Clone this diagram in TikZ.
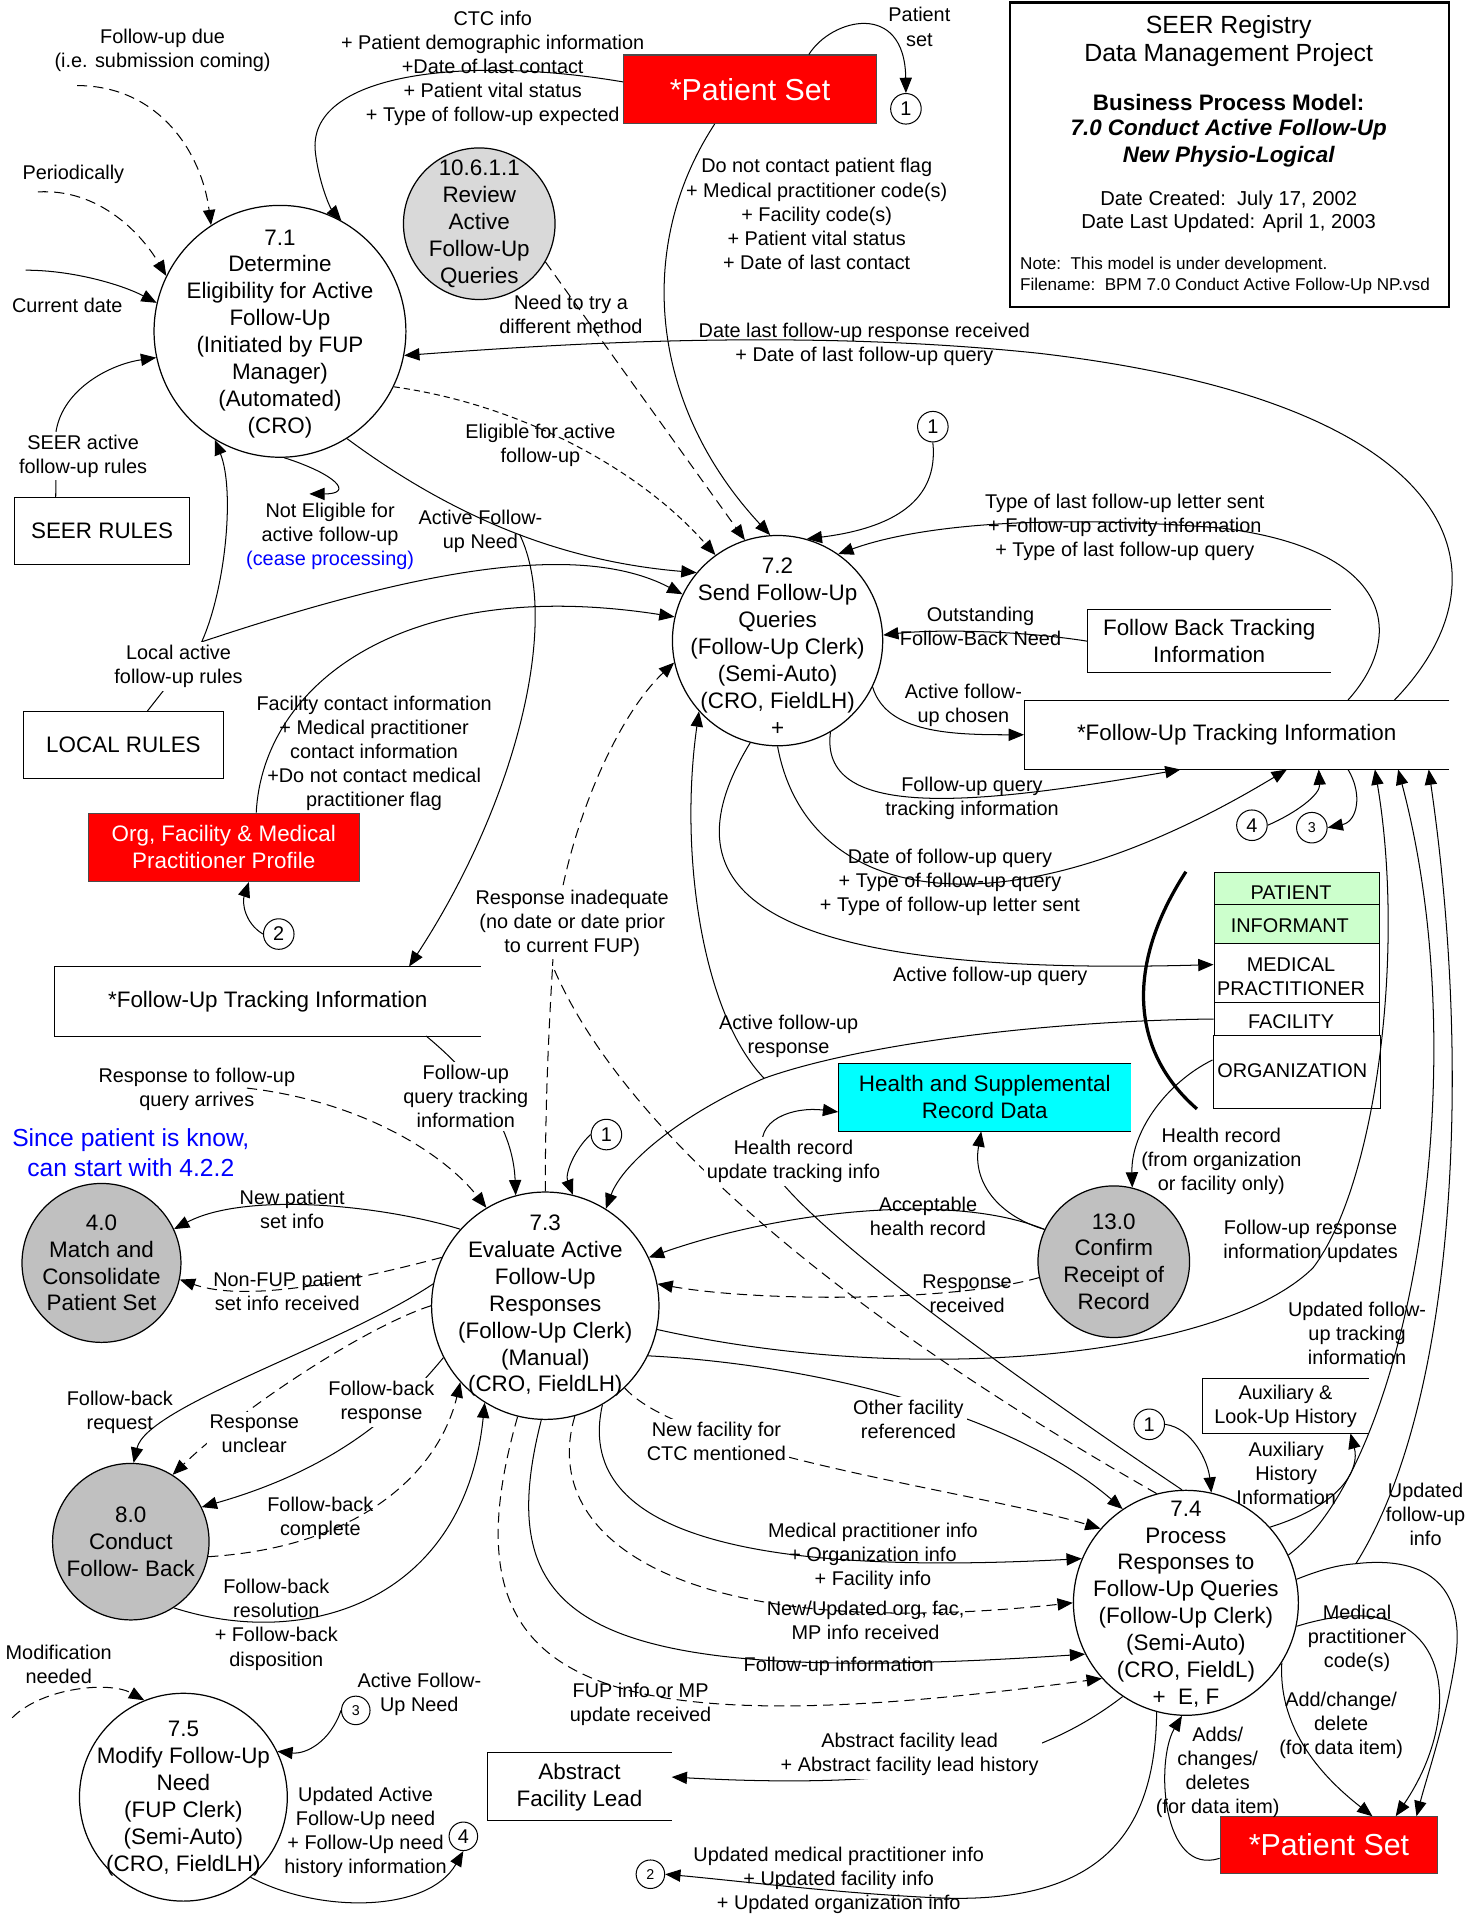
\documentclass[tikz,border=0pt]{standalone}
\usepackage{fontspec}
\setmainfont{Liberation Sans}
\usetikzlibrary{arrows.meta,calc}
\definecolor{gfill}{HTML}{C0C0C0}
\definecolor{gfilllt}{HTML}{D9D9D9}
\definecolor{entgreen}{HTML}{CCFFCC}
\definecolor{cyanbox}{HTML}{00FFFF}
\definecolor{redbox}{HTML}{FF0000}
\definecolor{bluetxt}{HTML}{0000FF}
\newcommand\lblf{\fontsize{9.75}{11.8}\selectfont}
\newcommand\procf{\fontsize{11}{13.2}\selectfont}
\newcommand\smallf{\fontsize{7}{8}\selectfont}
\begin{document}
\begin{tikzpicture}[x=0.6pt,y=-0.6pt,
  line width=0.5pt,
  con/.style={draw, -{Triangle[length=7.5pt,width=6pt]}},
  dsh/.style={con, dash pattern=on 5pt off 3pt},
  fdsh/.style={con, dash pattern=on 3pt off 2pt},
  nda/.style={dash pattern=on 5pt off 3pt},
  lbl/.style={font=\lblf, align=center, inner sep=1pt},
  lblw/.style={lbl, fill=white, inner sep=1.5pt},
  proc/.style={circle, draw, line width=0.6pt, inner sep=0pt, fill=white},
  gproc/.style={proc, fill=gfill},
  ptxt/.style={font=\procf, align=center, inner sep=0pt},
  cn/.style={circle, draw, inner sep=0pt, minimum size=15pt, font=\lblf, fill=white},
  sbox/.style={rectangle, inner sep=0pt, font=\procf, align=center},
  ent/.style={rectangle, draw, inner sep=0pt, minimum width=81pt, font=\lblf, align=center},
  etxt/.style={font=\lblf, align=center, inner sep=0pt},
]
\useasboundingbox (0,0) rectangle (1202,1568);

% ---------- title block ----------
\node[draw, line width=1.2pt, minimum width=215.4pt, minimum height=149.4pt, inner sep=0pt] (title) at (1005.5,126.5) {};
\node[font=\fontsize{12.2}{14}\selectfont] (tt1) at (1005,22) {SEER Registry};
\node[font=\fontsize{12.2}{14}\selectfont] (tt2) at (1005,45) {Data Management Project};
\node[font=\fontsize{11}{13}\selectfont\bfseries] (tt3) at (1005,84) {Business Process Model:};
\node[font=\fontsize{11}{13}\selectfont\bfseries\itshape] (tt4) at (1005,106) {7.0 Conduct Active Follow-Up};
\node[font=\fontsize{11}{13}\selectfont\bfseries\itshape] (tt5) at (1005,128) {New Physio-Logical};
\node[font=\fontsize{9.9}{12}\selectfont] (tt6) at (1005,164) {Date Created:\ \ July 17, 2002};
\node[font=\fontsize{9.9}{12}\selectfont] (tt7) at (1005,183) {Date Last Updated: April 1, 2003};
\node[font=\fontsize{8.4}{10}\selectfont, anchor=west, inner sep=0pt] (tt8) at (834,217) {Note:\ \ This model is under development.};
\node[font=\fontsize{8.4}{10}\selectfont, anchor=west, inner sep=0pt] (tt9) at (834,234) {Filename:\ \ BPM 7.0 Conduct Active Follow-Up NP.vsd};

% ---------- stores / boxes ----------
\node[sbox, draw=black!70, fill=redbox, text=white, minimum width=124.2pt, minimum height=33.6pt, font=\fontsize{14.9}{17}\selectfont] (psTop) at (613.5,73) {*Patient Set};
\node[sbox, draw=black!70, fill=redbox, text=white, minimum width=106.8pt, minimum height=27.6pt, font=\fontsize{14.9}{17}\selectfont] (psBot) at (1087,1509) {*Patient Set};
\node[sbox, draw=black!70, fill=redbox, text=white, minimum width=133.2pt, minimum height=33.6pt] (org) at (183,693) {Org, Facility \& Medical\\Practitioner Profile};
\node[sbox, draw, minimum width=85.8pt, minimum height=33pt] (seer) at (83.5,434.5) {SEER RULES};
\node[sbox, draw, minimum width=98.4pt, minimum height=33pt] (local) at (101,609.5) {LOCAL RULES};
\node[sbox, minimum width=208.8pt, minimum height=33.6pt] (futL) at (219,819) {*Follow-Up Tracking Information};
\node[sbox, minimum width=208.2pt, minimum height=33.6pt] (futR) at (1011.5,601) {*Follow-Up Tracking Information};
\node[sbox, minimum width=118.8pt, minimum height=30.6pt] (fbt) at (989,524.5) {Follow Back Tracking\\Information};
\node[sbox, fill=cyanbox, minimum width=143.4pt, minimum height=33pt] (hb) at (805.5,897.5) {Health and Supplemental\\Record Data};
\node[sbox, minimum width=90pt, minimum height=33pt] (abs) at (474,1461.5) {Abstract\\Facility Lead};
\node[sbox, font=\lblf, minimum width=81pt, minimum height=26.4pt] (aux) at (1051.5,1150) {Auxiliary \&\\Look-Up History};
\foreach \n in {futL,futR,fbt,hb,abs,aux}
  \draw (\n.north east) -- (\n.north west) -- (\n.south west) -- (\n.south east);

% ---------- entity table ----------
\node[ent, fill=entgreen, minimum height=15.6pt] (ePat) at (1060.5,727) {};
\node[ent, fill=entgreen, minimum height=19.2pt] (eInf) at (1060.5,756) {};
\node[ent, minimum height=28.8pt] (eMed) at (1060.5,796) {};
\node[ent, minimum height=16.2pt] (eFac) at (1060.5,833.5) {};
\node[ent, minimum height=36pt, minimum width=82pt] (eOrg) at (1060.5,877) {};
\node[etxt] (xPat) at (1056,730) {PATIENT};
\node[etxt] (xInf) at (1055,757) {INFORMANT};
\node[etxt] (xMed) at (1056,799) {MEDICAL\\PRACTITIONER};
\node[etxt] (xFac) at (1056,836) {FACILITY};
\node[etxt] (xOrg) at (1057,876) {ORGANIZATION};
\draw[line width=1.6pt] (970,713) .. controls (920,790) and (925,860) .. (979,907);

% ---------- processes ----------
\node[proc, minimum size=123.6pt] (p71) at (229,271) {};
\node[proc, fill=gfilllt, minimum size=74.4pt] (p1061) at (392,183) {};
\node[proc, minimum size=103.2pt] (p72) at (636,524) {};
\node[proc, minimum size=111.6pt] (p73) at (446,1068) {};
\node[proc, minimum size=110.4pt] (p74) at (970,1311) {};
\node[proc, minimum size=102pt] (p75) at (150,1470) {};
\node[gproc, minimum size=78pt] (p40) at (83,1033) {};
\node[gproc, minimum size=76.8pt] (p80) at (107,1261) {};
\node[gproc, minimum size=74.4pt] (p130) at (911,1032) {};

\node[ptxt] (t71) at (229,273) {7.1\\Determine\\Eligibility for Active\\Follow-Up\\(Initiated by FUP\\Manager)\\(Automated)\\(CRO)};
\node[ptxt] (t1061) at (392,183) {10.6.1.1\\Review\\Active\\Follow-Up\\Queries};
\node[ptxt] (t72) at (636,529) {7.2\\Send Follow-Up\\Queries\\(Follow-Up Clerk)\\(Semi-Auto)\\(CRO, FieldLH)\\+};
\node[ptxt] (t73) at (446,1068) {7.3\\Evaluate Active\\Follow-Up\\Responses\\(Follow-Up Clerk)\\(Manual)\\(CRO, FieldLH)};
\node[ptxt] (t74) at (970,1312) {7.4\\Process\\Responses to\\Follow-Up Queries\\(Follow-Up Clerk)\\(Semi-Auto)\\(CRO, FieldL)\\+\ \ E, F};
\node[ptxt] (t75) at (150,1471) {7.5\\Modify Follow-Up\\Need\\(FUP Clerk)\\(Semi-Auto)\\(CRO, FieldLH)};
\node[ptxt] (t40) at (83,1033) {4.0\\Match and\\Consolidate\\Patient Set};
\node[ptxt] (t80) at (107,1261) {8.0\\Conduct\\Follow- Back};
\node[ptxt] (t130) at (911,1032) {13.0\\Confirm\\Receipt of\\Record};

% ---------- off-page connectors ----------
\node[cn] (c1a) at (741,89) {1};
\node[cn] (c1b) at (763,349) {1};
\node[cn] (c1c) at (496,928) {1};
\node[cn] (c1d) at (940,1165) {1};
\node[cn] (c2a) at (228,764) {2};
\node[cn, font=\smallf, minimum size=14pt] (c2b) at (532,1533) {2};
\node[cn, font=\smallf] (c3a) at (1073,677) {3};
\node[cn, font=\smallf, minimum size=14pt] (c3b) at (291,1399) {3};
\node[cn] (c4a) at (1024,675) {4};
\node[cn, minimum size=14pt] (c4b) at (379,1502) {4};

% ---------- free ends / junctions ----------
\coordinate (fud) at (63,70);
\coordinate (per) at (31,157);
\coordinate (cdt) at (21,221);
\coordinate (lrj) at (165,525);
\coordinate (afn) at (425,437);
\coordinate (ne) at (253,404);
\coordinate (afr) at (625,882);
\coordinate (rij) at (452,790);
\coordinate (rtf) at (202,890);
\coordinate (mod) at (10,1405);
\coordinate (ufi) at (1109,1279);

% ---------- connectors: 7.1 ----------
\draw[dsh] (fud) .. controls (130,70) and (165,125) .. (p71.123);
\draw[dsh] (per) .. controls (80,154) and (115,190) .. (p71.154);
\draw[con] (cdt) .. controls (60,221) and (100,233) .. (p71.167);
\draw[con] ($(seer.north west)+(34,0)$) -- (46,352) .. controls (52,318) and (90,298) .. (p71.192);
\draw ($(local.north west)+(102,0)$) -- (lrj);
\draw[con] (lrj) .. controls (185,480) and (192,400) .. (p71.239);
\draw[con] (lrj) .. controls (330,470) and (470,440) .. (p72.154);
\draw[con] ($(psTop.west)+(0,-6)$) .. controls (380,45) and (250,60) .. (258,125) .. controls (261,150) and (270,170) .. (p71.61);
\draw[con] ($(psTop.north west)+(152,0)$) .. controls (680,15) and (740,0) .. (c1a.north);
\draw[con] ($(psTop.south west)+(75,0)$) .. controls (520,200) and (530,330) .. (p72.94);
\draw[dsh] (p1061.-30) -- (p72.108);
\draw[fdsh] (p71.-26) .. controls (420,330) and (520,380) .. (p72.126);
\draw[con] (p71.-58) .. controls (380,430) and (470,460) .. (p72.140);
\draw[con] (afn) .. controls (460,510) and (420,660) .. ($(futL.north west)+(290,0)$);
\draw[con] (p71.-88) .. controls (275,388) and (290,404) .. (ne);
\draw[con] ($(futR.north west)+(303,0)$) .. controls (1240,470) and (1200,330) .. (850,289) .. controls (650,268) and (450,282) .. (p71.-11);

% ---------- connectors: 7.2 ----------
\draw[con] ($(futR.north west)+(265,0)$) .. controls (1150,520) and (1140,450) .. (1000,432) .. controls (850,420) and (750,430) .. (p72.55);
\draw[con] (c1b.south) .. controls (768,410) and (730,432) .. (p72.74);
\draw[con] (fbt.west) .. controls (830,515) and (760,515) .. (p72.3);
\draw[con] (p72.-26) .. controls (725,600) and (780,601) .. (futR.west);
\draw[con] (p72.-60) .. controls (670,670) and (790,660) .. ($(futR.south west)+(128,0)$);
\draw[con] (p72.-90) .. controls (660,740) and (820,770) .. ($(futR.south west)+(215,0)$);
\draw[con] (p72.-105) .. controls (545,720) and (600,800) .. ($(eMed.west)+(0,-7)$);
\draw[con] (eFac.west) .. controls (850,835) and (700,855) .. (afr) .. controls (560,910) and (510,950) .. (p73.58);
\draw[con] (afr) .. controls (575,830) and (555,700) .. (p72.-138);
\draw[con] ($(org.north west)+(138,0)$) .. controls (215,560) and (330,470) .. (p72.167);
\draw[con] (c2a.west) .. controls (200,755) and (198,738) .. ($(org.south west)+(132,0)$);
\draw[con] ($(futR.south west)+(265,0)$) .. controls (1115,650) and (1110,672) .. (c3a.east);
\draw[con] (c4a.east) .. controls (1060,665) and (1080,650) .. ($(futR.south west)+(241,0)$);

% ---------- connectors: 13.0 / health ----------
\draw[con] ($(eOrg.west)+(0,-10)$) .. controls (955,885) and (925,925) .. (p130.76);
\draw[con] (p130.155) .. controls (818,995) and (795,968) .. ($(hb.south west)+(117,0)$);
\draw[con] (p130.155) .. controls (780,975) and (640,990) .. (p73.25);
\draw[dsh] (p130.192) .. controls (780,1065) and (620,1065) .. (p73.11);
\draw[con] (p74.92) .. controls (820,1120) and (640,990) .. (625,945) .. controls (615,915) and (650,905) .. ($(hb.west)+(0,12)$);

% ---------- connectors: 7.3 ----------
\draw[nda] (p73.90) .. controls (446,900) and (449,840) .. (rij);
\draw[nda] (p74.105) .. controls (750,1110) and (520,950) .. (rij);
\draw[dsh] (rij) .. controls (455,700) and (500,590) .. (p72.192);
\draw[con] (c1c.west) .. controls (470,940) and (462,960) .. (p73.76);
\draw[dsh] (rtf) .. controls (290,900) and (360,940) .. (p73.121);
\draw[con] ($(futL.south west)+(304,0)$) .. controls (400,890) and (420,930) .. (p73.105);
\draw[con] (p73.138) .. controls (310,985) and (200,975) .. (p40.25);
\draw[dsh] (p73.155) .. controls (280,1050) and (200,1065) .. (p40.-12);
\draw[con] (p73.169) .. controls (280,1100) and (120,1150) .. (p80.88);
\draw[dsh] (p73.180) .. controls (300,1085) and (200,1150) .. (p80.58);
\draw[con] (p73.207) .. controls (330,1150) and (280,1200) .. (p80.26);
\draw[dsh] (p80.-11) .. controls (300,1265) and (360,1200) .. (p73.222);
\draw[con] (p80.-57) .. controls (250,1350) and (380,1310) .. (p73.238);
\draw[dsh] (mod) .. controls (35,1380) and (90,1375) .. (p75.112);
\draw[con] (c3b.west) .. controls (270,1425) and (250,1435) .. (p75.26);
\draw[con] (p75.-50) .. controls (260,1565) and (350,1565) .. (c4b.south);
\draw[con] (p73.-26) .. controls (650,1115) and (820,1150) .. (p74.124);
\draw[dsh] (p73.-46) .. controls (560,1190) and (800,1220) .. (p74.139);
\draw[con] (p73.-60) .. controls (470,1250) and (600,1290) .. (p74.157);
\draw[dsh] (p73.-75) .. controls (440,1260) and (560,1345) .. (p74.180);
\draw[con] (p73.-92) .. controls (400,1330) and (480,1380) .. (p74.207);
\draw[dsh] (p73.-104) .. controls (360,1380) and (480,1430) .. (p74.222);
\draw[con] (p73.-12) .. controls (750,1135) and (1000,1110) .. (1074,1037) .. controls (1125,970) and (1150,780) .. ($(futR.south west)+(287,0)$);

% ---------- connectors: 7.4 ----------
\draw[con] (p74.25) .. controls (1150,1200) and (1210,880) .. ($(futR.south west)+(306,0)$);
\draw[con] (p74.12) .. controls (1085,1282) and (1097,1280) .. (ufi) .. controls (1170,1272) and (1200,1300) .. (1190,1360) .. controls (1182,1410) and (1168,1450) .. ($(psBot.north west)+(161,0)$);
\draw[con] (ufi) .. controls (1190,1150) and (1205,880) .. ($(futR.south west)+(331,0)$);
\draw[con] (p74.-12) .. controls (1190,1290) and (1200,1400) .. ($(psBot.north west)+(144,0)$);
\draw[con] (p74.-32) .. controls (1045,1420) and (1090,1460) .. ($(psBot.north west)+(125,0)$);
\draw[con] ($(psBot.west)+(0,11)$) .. controls (950,1535) and (945,1440) .. (p74.-92);
\draw[con] (p74.42) .. controls (1100,1230) and (1112,1200) .. ($(aux.south west)+(121,0)$);
\draw[con] (c1d.east) .. controls (975,1168) and (988,1195) .. (p74.77);
\draw[con] (p74.236) .. controls (850,1440) and (760,1465) .. ($(abs.east)+(0,-8)$);
\draw[con] (p74.255) .. controls (945,1500) and (900,1560) .. (760,1552) .. controls (680,1548) and (600,1538) .. (c2b.east);

% ---------- labels ----------
\node[lbl] (L1) at (133,41) {Follow-up due\\(i.e. submission coming)};
\node[lbl] (L2) at (60,143) {Periodically};
\node[lbl] (L3) at (55,250) {Current date};
\node[lblw] (L4) at (68,373) {SEER active\\follow-up rules};
\node[lblw] (L5) at (146,545) {Local active\\follow-up rules};
\node[lbl] (L6) at (403,56) {CTC info\\+ Patient demographic information\\+Date of last contact\\+ Patient vital status\\+ Type of follow-up expected};
\node[lbl] (L7) at (752,22) {Patient\\set};
\node[lbl] (L8) at (668,175) {Do not contact patient flag\\+ Medical practitioner code(s)\\+ Facility code(s)\\+ Patient vital status\\+ Date of last contact};
\node[lbl] (L9) at (467,257) {Need to try a\\different method};
\node[lbl] (L10) at (442,364) {Eligible for active\\follow-up};
\node[lbl] (L11) at (393,435) {Active Follow-\\up Need};
\node[lbl] (L12) at (270,439) {Not Eligible for\\active follow-up\\\textcolor{bluetxt}{(cease processing)}};
\node[lbl] (L13) at (707,282) {Date last follow-up response received\\+ Date of last follow-up query};
\node[lbl] (L14) at (920,431) {Type of last follow-up letter sent\\+ Follow-up activity information\\+ Type of last follow-up query};
\node[lbl] (L15) at (802,512) {Outstanding\\Follow-Back Need};
\node[lbl] (L16) at (788,577) {Active follow-\\up chosen};
\node[lbl] (L17) at (795,653) {Follow-up query\\tracking information};
\node[lbl] (L18) at (777,722) {Date of follow-up query\\+ Type of follow-up query\\+ Type of follow-up letter sent};
\node[lbl] (L19) at (810,799) {Active follow-up query};
\node[lbl] (L20) at (645,848) {Active follow-up\\response};
\node[lbl] (L21) at (306,616) {Facility contact information\\+ Medical practitioner\\contact information\\+Do not contact medical\\practitioner flag};
\node[lblw] (L22) at (468,755) {Response inadequate\\(no date or date prior\\to current FUP)};
\node[lbl] (L23) at (999,950) {Health record\\(from organization\\or facility only)};
\node[lblw] (L24) at (649,950) {Health record\\update tracking info};
\node[lbl] (L25) at (759,995) {Acceptable\\health record};
\node[lbl] (L26) at (791,1058) {Response\\received};
\node[lbl] (L27) at (1072,1015) {Follow-up response\\information updates};
\node[lbl] (L28) at (1110,1091) {Updated follow-\\up tracking\\information};
\node[lbl] (L29) at (1052,1205) {Auxiliary\\History\\Information};
\node[lbl] (L30) at (1166,1239) {Updated\\follow-up\\info};
\node[lbl] (L31) at (1110,1340) {Medical\\practitioner\\code(s)};
\node[lbl] (L32) at (1097,1411) {Add/change/\\delete\\(for data item)};
\node[lbl] (L33) at (996,1450) {Adds/\\changes/\\deletes\\(for data item)};
\node[lbl] (L34) at (161,891) {Response to follow-up\\query arrives};
\node[lblw] (L35) at (381,897) {Follow-up\\query tracking\\information};
\node[lbl, font=\fontsize{12.1}{14.5}\selectfont, text=bluetxt] (L36) at (107,943) {Since patient is know,\\can start with 4.2.2};
\node[lbl] (L37) at (239,989) {New patient\\set info};
\node[lbl] (L38) at (235,1056) {Non-FUP patient\\set info received};
\node[lbl] (L39) at (98,1155) {Follow-back\\request};
\node[lblw] (L40) at (208,1173) {Response\\unclear};
\node[lblw] (L41) at (312,1147) {Follow-back\\response};
\node[lbl] (L42) at (262,1242) {Follow-back\\complete};
\node[lbl] (L43) at (226,1329) {Follow-back\\resolution\\+ Follow-back\\disposition};
\node[lbl] (L44) at (48,1361) {Modification\\needed};
\node[lbl] (L45) at (343,1386) {Active Follow-\\Up Need};
\node[lbl] (L46) at (299,1499) {Updated Active\\Follow-Up need\\+ Follow-Up need\\history information};
\node[lblw] (L47) at (586,1179) {New facility for\\CTC mentioned};
\node[lblw] (L48) at (743,1161) {Other facility\\referenced};
\node[lbl] (L49) at (714,1273) {Medical practitioner info\\+ Organization info\\+ Facility info};
\node[lbl] (L50) at (708,1325) {New/Updated org, fac,\\MP info received};
\node[lbl] (L51) at (686,1363) {Follow-up information};
\node[lbl] (L52) at (524,1394) {FUP info or MP\\update received};
\node[lblw] (L53) at (744,1435) {Abstract facility lead\\+ Abstract facility lead history};
\node[lbl] (L54) at (686,1538) {Updated medical practitioner info\\+ Updated facility info\\+ Updated organization info};
\end{tikzpicture}
\end{document}
